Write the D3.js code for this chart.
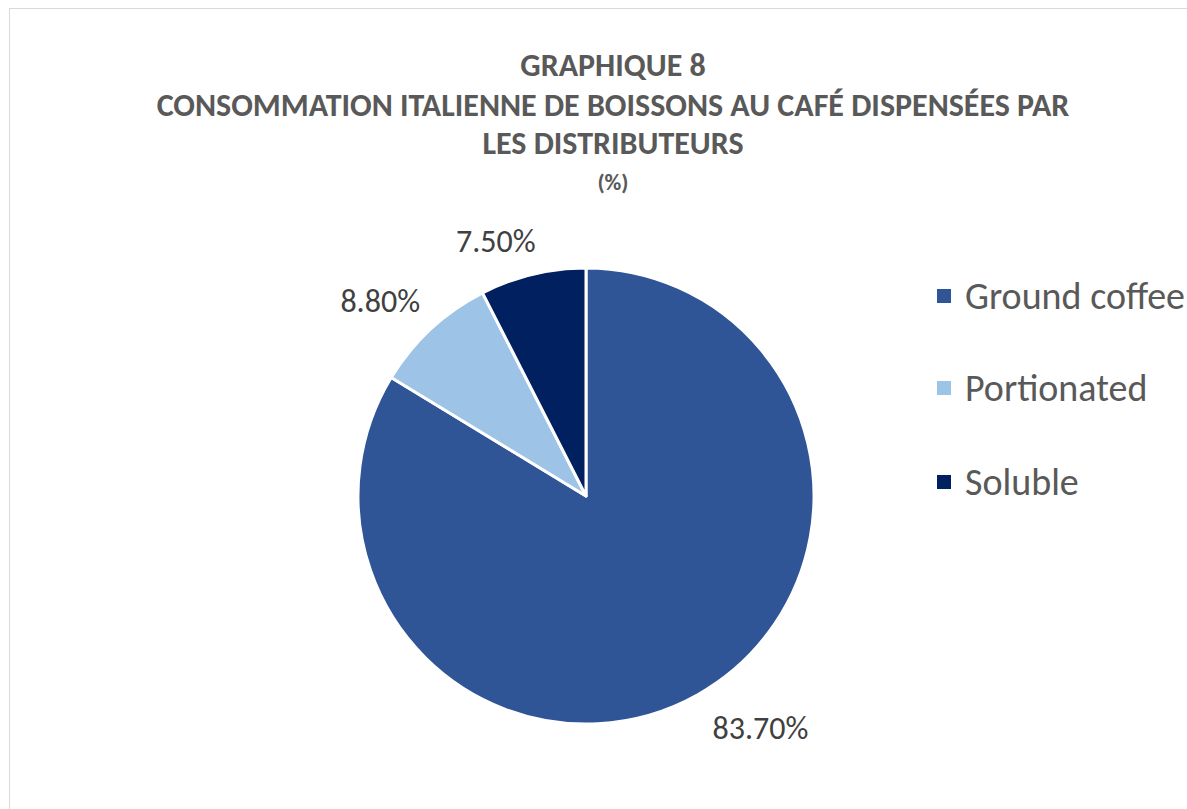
<!DOCTYPE html>
<html>
<head>
<meta charset="utf-8">
<script src="https://cdn.jsdelivr.net/npm/d3@7"></script>
<style>
  html, body { margin: 0; padding: 0; background: #fff; }
  svg { display: block; }
</style>
</head>
<body>
<svg id="chart"></svg>
<script>
// Chart data
const categories = ["Ground coffee", "Portionated", "Soluble"];
const values = [83.7, 8.8, 7.5];
const colors = ["#2f5597", "#9dc3e6", "#002060"];
const titleLines = [
    "GRAPHIQUE 8",
    "CONSOMMATION ITALIENNE DE BOISSONS AU CAFÉ DISPENSÉES PAR",
    "LES DISTRIBUTEURS"
];
const subtitle = "(%)";

const width = 1187;
const height = 809;
const font = "Carlito, Calibri, Lato, sans-serif";

const svg = d3.select("#chart")
    .attr("width", width)
    .attr("height", height);

// Chart area border
svg.append("rect")
    .attr("x", 9.5)
    .attr("y", 8.5)
    .attr("width", width + 20)
    .attr("height", height + 20)
    .attr("fill", "#fff")
    .attr("stroke", "#d9d9d9")
    .attr("stroke-width", 1);

// Title
const titleY = [65, 105, 143];
svg.selectAll(".title")
    .data(titleLines)
    .enter()
    .append("text")
    .attr("class", "title")
    .attr("x", 613)
    .attr("y", (d, i) => titleY[i])
    .attr("dy", "0.35em")
    .attr("text-anchor", "middle")
    .attr("font-family", font)
    .attr("font-weight", "bold")
    .attr("font-size", 32)
    .attr("fill", "#595959")
    .text(d => d);

svg.append("text")
    .attr("x", 613)
    .attr("y", 182)
    .attr("dy", "0.35em")
    .attr("text-anchor", "middle")
    .attr("font-family", font)
    .attr("font-weight", "bold")
    .attr("font-size", 23)
    .attr("fill", "#595959")
    .text(subtitle);

// Pie
const cx = 586, cy = 496, radius = 228;
const pie = d3.pie().sort(null).value(d => d.value);
const arcs = pie(categories.map((c, i) => ({ name: c, value: values[i], color: colors[i] })));

const arc = d3.arc().innerRadius(0).outerRadius(radius);
const labelArc = d3.arc().innerRadius(radius + 22).outerRadius(radius + 22);

const g = svg.append("g").attr("transform", `translate(${cx},${cy})`);

g.selectAll("path")
    .data(arcs)
    .enter()
    .append("path")
    .attr("d", arc)
    .attr("fill", d => d.data.color)
    .attr("stroke", "#fff")
    .attr("stroke-width", 3)
    .attr("stroke-linejoin", "round");

// Data labels outside the slices
g.selectAll(".label")
    .data(arcs)
    .enter()
    .append("text")
    .attr("class", "label")
    .attr("transform", d => {
        const [x, y] = labelArc.centroid(d);
        const mid = (d.startAngle + d.endAngle) / 2;
        const dyOff = Math.cos(mid) > 0 ? -12 : 14;
        const dxOff = Math.abs(Math.sin(mid)) < 0.4 ? 8 : 4;
        return `translate(${x + dxOff},${y + dyOff})`;
    })
    .attr("dy", "0.35em")
    .attr("text-anchor", d => Math.sin((d.startAngle + d.endAngle) / 2) > 0 ? "start" : "end")
    .attr("font-family", font)
    .attr("font-size", 32)
    .attr("fill", "#404040")
    .text(d => d.data.value.toFixed(2) + "%");

// Legend
const legendY = [296, 388, 482];
const legend = svg.selectAll(".legend")
    .data(categories)
    .enter()
    .append("g")
    .attr("class", "legend")
    .attr("transform", (d, i) => `translate(937,${legendY[i]})`);

legend.append("rect")
    .attr("x", 0)
    .attr("y", -7)
    .attr("width", 14)
    .attr("height", 14)
    .attr("fill", (d, i) => colors[i]);

legend.append("text")
    .attr("x", 28)
    .attr("y", 0)
    .attr("dy", "0.35em")
    .attr("font-family", font)
    .attr("font-size", 38)
    .attr("fill", "#595959")
    .text(d => d);
</script>
</body>
</html>
